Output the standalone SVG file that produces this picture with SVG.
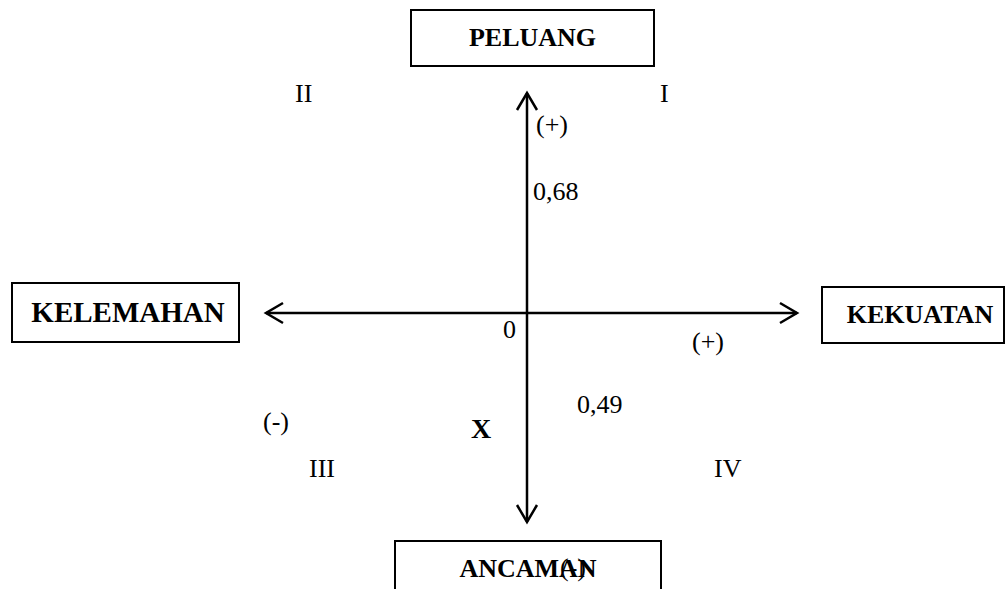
<svg xmlns="http://www.w3.org/2000/svg" width="1006" height="589" viewBox="0 0 1006 589">
<style>
.box{fill:#fff;stroke:#000;stroke-width:2}
.bt{font-family:"Liberation Serif","Times New Roman",serif;font-weight:bold;font-size:26px;fill:#000}
.t{font-family:"Liberation Serif","Times New Roman",serif;font-size:26px;fill:#000}
.ax{fill:none;stroke:#000;stroke-width:2.5}
</style>
<rect width="1006" height="589" fill="#fff"/>
<g id="connectors">
<line class="ax" x1="527" y1="93" x2="527" y2="522"/>
<line class="ax" x1="266" y1="313" x2="797" y2="313"/>
<path class="ax" d="M517,110 L527,93 L537,110"/>
<path class="ax" d="M517,505 L527,522 L537,505"/>
<path class="ax" d="M283,303 L266,313 L283,323"/>
<path class="ax" d="M780,303 L797,313 L780,323"/>
</g>
<g id="peluang">
<rect class="box" x="411" y="10" width="243" height="56"/>
<text class="bt" x="532.5" y="46" text-anchor="middle">PELUANG</text>
</g>
<g id="kelemahan">
<rect class="box" x="12" y="283" width="227" height="59"/>
<text class="bt" x="128" y="322" text-anchor="middle" style="font-size:29px">KELEMAHAN</text>
</g>
<g id="kekuatan">
<rect class="box" x="822" y="287" width="182" height="56"/>
<text class="bt" x="920" y="323" text-anchor="middle">KEKUATAN</text>
</g>
<g id="ancaman">
<rect class="box" x="395" y="541" width="266" height="60"/>
<text class="bt" x="528" y="577" text-anchor="middle">ANCAMAN</text>
<text class="t" x="560" y="576">(-)</text>
</g>
<g id="labels">
<text class="t" x="295" y="102">II</text>
<text class="t" x="660" y="102">I</text>
<text class="t" x="536" y="133">(+)</text>
<text class="t" x="533" y="200">0,68</text>
<text class="t" x="503" y="338">0</text>
<text class="t" x="692" y="350">(+)</text>
<text class="t" x="263" y="430">(-)</text>
<text class="bt" x="471" y="438" style="font-size:28px">X</text>
<text class="t" x="309" y="477">III</text>
<text class="t" x="577" y="413">0,49</text>
<text class="t" x="714" y="477">IV</text>
</g>
</svg>
